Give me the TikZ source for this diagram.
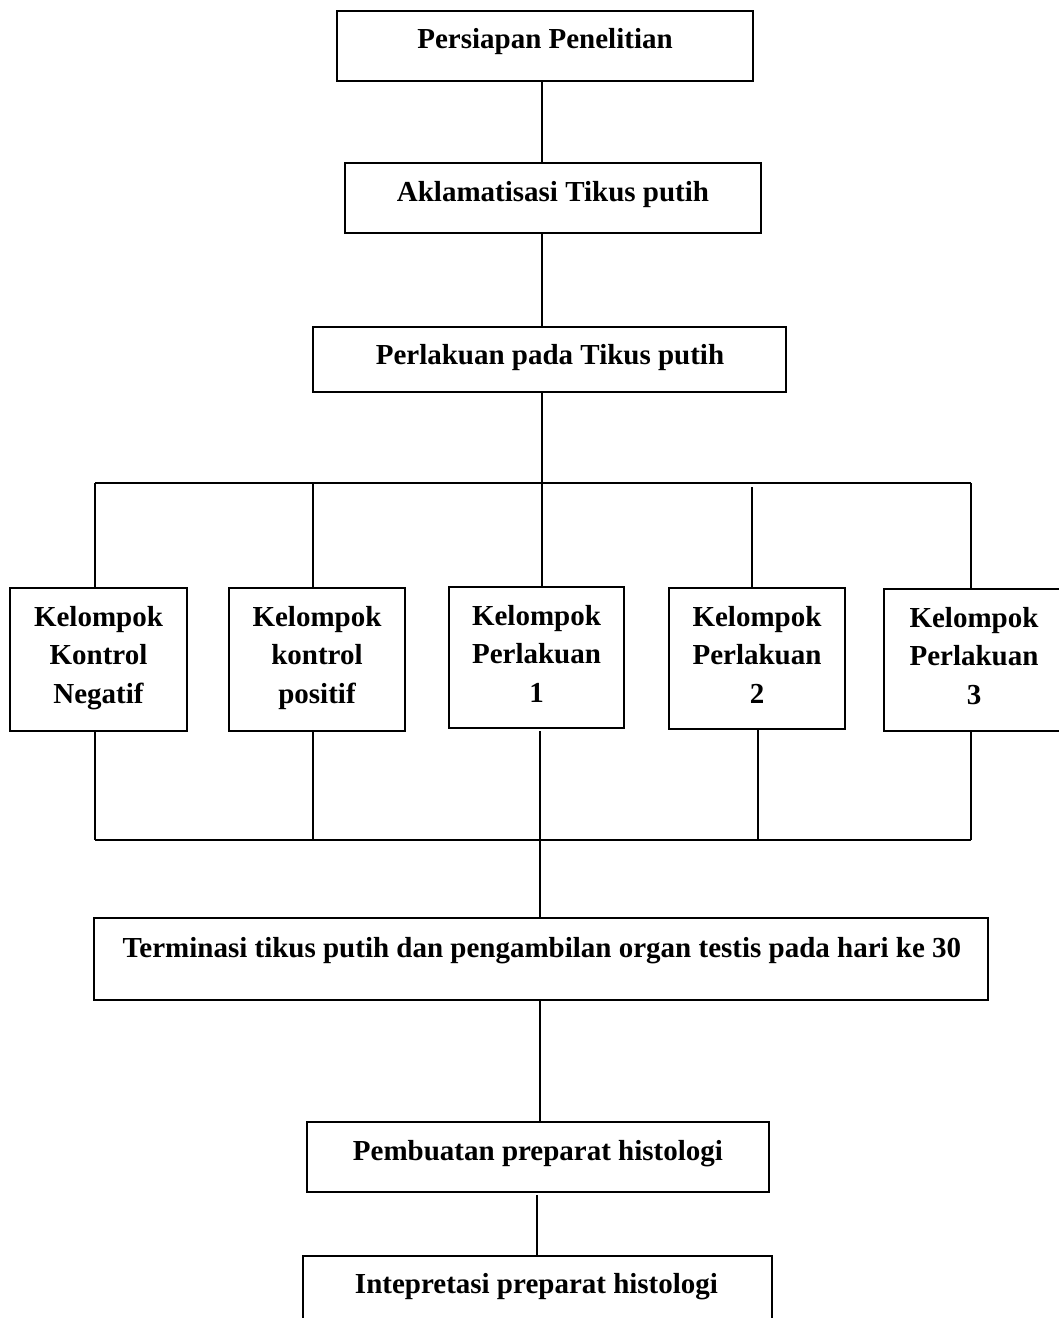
\documentclass[tikz,border=0pt]{standalone}
\usepackage{fontspec}
\setmainfont{Liberation Serif}
\newcommand\stacklines[1]{\begin{tabular}[t]{@{}c@{}}#1\end{tabular}}
\begin{document}
\begin{tikzpicture}[x=1pt,y=-1pt,
  box/.style={draw=black,line width=1.8pt,rectangle,inner sep=0pt,outer sep=0pt,fill=none},
  lab/.style={inner sep=0pt,anchor=base,font=\fontsize{29}{38.5}\selectfont\bfseries},
  conn/.style={draw=black,line width=1.8pt}]
\clip (0,0) rectangle (1059,1318);
\fill[white] (0,0) rectangle (1059,1318);

% boxes
\node[box,minimum width=416pt,minimum height=70pt] (b1) at (545,46) {};
\node[box,minimum width=416pt,minimum height=70pt] (b2) at (553,198) {};
\node[box,minimum width=473pt,minimum height=65pt] (b3) at (549.5,359.5) {};
\node[box,minimum width=177pt,minimum height=143pt] (b4) at (98.5,659.5) {};
\node[box,minimum width=176pt,minimum height=143pt] (b5) at (317,659.5) {};
\node[box,minimum width=175pt,minimum height=141pt] (b6) at (536.5,657.5) {};
\node[box,minimum width=176pt,minimum height=141pt] (b7) at (757,658.5) {};
\node[box,minimum width=178pt,minimum height=142pt] (b8) at (973,660) {};
\node[box,minimum width=894pt,minimum height=82pt] (b9) at (541,959) {};
\node[box,minimum width=462pt,minimum height=70pt] (b10) at (538,1157) {};
\node[box,minimum width=469pt,minimum height=84pt] (b11) at (537.5,1298) {};

% labels
\node[lab] (l1) at (545,48) {Persiapan Penelitian};
\node[lab] (l2) at (553,201) {Aklamatisasi Tikus putih};
\node[lab] (l3) at (550,364) {Perlakuan pada Tikus putih};
\node[lab] (l4) at (98.5,626) {\stacklines{Kelompok\\Kontrol\\Negatif}};
\node[lab] (l5) at (317,626) {\stacklines{Kelompok\\kontrol\\positif}};
\node[lab] (l6) at (536.5,625) {\stacklines{Kelompok\\Perlakuan\\1}};
\node[lab] (l7) at (757,626) {\stacklines{Kelompok\\Perlakuan\\2}};
\node[lab] (l8) at (974,627) {\stacklines{Kelompok\\Perlakuan\\3}};
\node[lab] (l9) at (542,957) {Terminasi tikus putih dan pengambilan organ testis pada hari ke 30};
\node[lab] (l10) at (538,1160) {Pembuatan preparat histologi};
\node[lab] (l11) at (536.5,1293) {Intepretasi preparat histologi};

% junction coordinates
\coordinate (trunk) at (542,483);
\coordinate (t4) at (95,483);
\coordinate (t5) at (313,483);
\coordinate (t7) at (752,487);
\coordinate (t8) at (971,483);
\coordinate (u4) at (95,840);
\coordinate (u5) at (313,840);
\coordinate (u6) at (540,840);
\coordinate (u7) at (758,840);
\coordinate (u8) at (971,840);
\coordinate (v11) at (537,1195);

% connectors
\draw[conn] (b1.south -| trunk) -- (b2.north -| trunk);
\draw[conn] (b2.south -| trunk) -- (b3.north -| trunk);
\draw[conn] (b3.south -| trunk) -- (b6.north -| trunk);
\draw[conn] (t4) -- (t8);
\draw[conn] (t4) -- (b4.north -| t4);
\draw[conn] (t5) -- (b5.north -| t5);
\draw[conn] (t7) -- (b7.north -| t7);
\draw[conn] (t8) -- (b8.north -| t8);
\draw[conn] (b4.south -| u4) -- (u4);
\draw[conn] (b5.south -| u5) -- (u5);
\draw[conn] ([yshift=-3pt]b6.south -| u6) -- (u6);
\draw[conn] (b7.south -| u7) -- (u7);
\draw[conn] (b8.south -| u8) -- (u8);
\draw[conn] (u4) -- (u8);
\draw[conn] (u6) -- (b9.north -| u6);
\draw[conn] (b9.south -| u6) -- (b10.north -| u6);
\draw[conn] (v11) -- (b11.north -| v11);
\end{tikzpicture}
\end{document}
